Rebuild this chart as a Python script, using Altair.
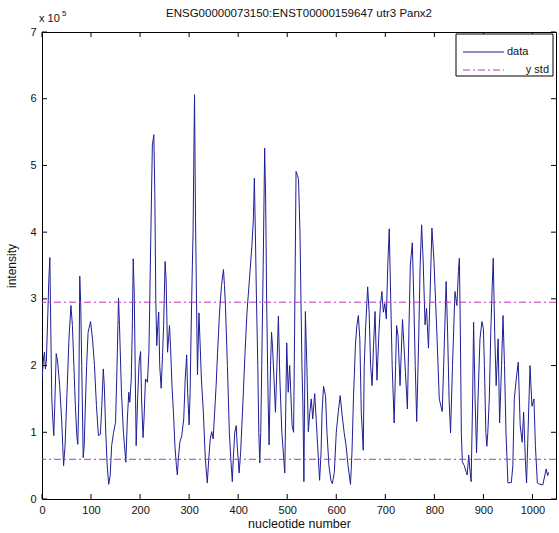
import altair as alt
import pandas as pd

TITLE = "ENSG00000073150:ENST00000159647 utr3 Panx2"
X_TITLE = "nucleotide number"
Y_TITLE = "intensity"

nucleotide = [
    0, 3, 5, 7, 9, 12, 14, 16, 18, 20, 22, 24, 26, 29, 32, 36, 40, 44, 47, 51,
    55, 59, 62, 65, 68, 71, 73, 75, 77, 79, 81, 84, 86, 88, 91, 94, 99, 103, 107, 111,
    115, 119, 122, 125, 127, 130, 133, 136, 139, 142, 146, 150, 153, 156, 158, 162, 166, 171, 174, 177,
    179, 182, 184, 186, 188, 190, 192, 195, 198, 201, 203, 206, 208, 211, 215, 218, 220, 222, 225, 228,
    230, 232, 234, 236, 238, 240, 243, 246, 248, 251, 253, 256, 258, 260, 262, 265, 268, 271, 274, 276,
    278, 281, 285, 289, 292, 295, 297, 300, 302, 304, 306, 308, 310, 311, 313, 315, 317, 320, 322, 325,
    329, 333, 337, 340, 343, 346, 349, 352, 355, 358, 362, 366, 370, 372, 374, 378, 382, 385, 388, 390,
    393, 396, 398, 402, 405, 410, 414, 418, 423, 428, 431, 433, 435, 437, 440, 442, 444, 446, 448, 451,
    454, 456, 458, 461, 463, 466, 468, 470, 473, 476, 479, 482, 485, 489, 495, 499, 502, 505, 510, 513,
    515, 518, 521, 523, 526, 528, 530, 532, 534, 537, 540, 543, 546, 549, 552, 556, 559, 562, 566, 569,
    571, 574, 578, 581, 585, 589, 592, 596, 600, 604, 608, 612, 616, 620, 624, 629, 632, 635, 639, 642,
    645, 648, 651, 655, 657, 660, 664, 667, 670, 673, 676, 679, 683, 687, 690, 693, 696, 699, 702, 705,
    708, 711, 714, 718, 721, 723, 726, 730, 735, 738, 741, 745, 748, 751, 755, 758, 761, 764, 768, 771,
    774, 777, 781, 784, 788, 791, 795, 799, 805, 810, 816, 819, 824, 827, 830, 833, 837, 842, 846, 849,
    851, 853, 855, 857, 861, 865, 867, 870, 873, 875, 878, 880, 883, 886, 889, 893, 897, 900, 902, 905,
    907, 909, 912, 915, 918, 920, 923, 926, 930, 933, 937, 940, 943, 946, 950, 957, 960, 963, 967, 971,
    975, 979, 982, 986, 988, 991, 995, 999, 1003, 1006, 1010, 1015, 1021, 1028, 1031, 1033,
]

# intensity in units of 1e5
intensity_e5 = [
    1.79, 2.1, 2.2, 1.95, 2.1, 2.8, 3.3, 3.62, 2.5, 1.5, 1.2, 0.95, 1.4, 2.18, 2.05, 1.7, 1.2, 0.5, 0.8, 1.6,
    2.4, 2.9, 2.6, 2.0, 1.4, 0.95, 0.82, 1.5, 3.34, 2.9, 2.0, 0.62, 0.8, 1.3, 2.0, 2.5, 2.66, 2.4, 2.0, 1.4,
    0.95, 0.97, 1.4, 1.95, 1.7, 1.0, 0.5, 0.22, 0.35, 0.8, 1.0, 1.15, 2.0, 3.01, 2.6, 1.6, 1.0, 0.55, 1.2, 1.6,
    1.45, 1.8, 2.5, 3.6, 3.1, 2.0, 0.8, 1.5, 2.05, 2.21, 1.5, 0.92, 1.2, 1.8, 1.75, 2.2, 3.1, 4.0, 5.3, 5.46,
    4.6, 3.0, 2.3, 2.6, 2.8, 2.0, 1.66, 2.2, 2.6, 3.56, 3.3, 2.2, 2.4, 2.6, 2.3, 1.7, 1.3, 0.8, 0.5, 0.36,
    0.6, 0.85, 0.95, 1.2, 1.8, 2.16, 1.6, 1.11, 1.6, 2.5, 3.3, 4.0, 5.4, 6.06, 4.2, 3.0, 1.86, 2.79, 2.4, 1.8,
    1.3, 0.6, 0.24, 0.6, 0.9, 1.01, 0.9, 1.3, 1.7, 2.2, 2.8, 3.2, 3.44, 3.2, 2.9, 2.0, 1.0, 0.6, 0.26, 0.6,
    1.0, 1.1, 0.8, 0.39, 0.7, 1.5, 2.2, 2.8, 3.3, 3.8, 4.2, 4.81, 4.0, 3.1, 2.0, 1.0, 0.54, 1.0, 2.0, 3.5,
    5.26, 4.5, 3.0, 1.5, 0.81, 2.0, 2.5, 2.29, 1.8, 1.3, 2.0, 2.74, 1.8, 1.0, 0.39, 2.34, 1.6, 2.0, 1.1, 1.0,
    2.5, 4.91, 4.85, 4.79, 4.0, 3.0, 2.0, 1.4, 0.26, 2.81, 2.0, 1.01, 1.3, 1.5, 1.2, 1.58, 1.2, 0.8, 0.28, 0.7,
    1.3, 1.69, 1.55, 1.0, 0.5, 0.28, 0.23, 0.4, 1.0, 1.3, 1.55, 1.25, 1.0, 0.8, 0.5, 0.22, 0.7, 1.5, 2.3, 2.6,
    2.75, 2.4, 1.3, 0.73, 2.0, 2.6, 3.18, 2.8, 2.0, 1.7, 2.3, 2.81, 1.78, 2.5, 2.9, 3.11, 2.8, 2.93, 2.7, 3.5,
    4.05, 3.0, 2.0, 1.14, 2.0, 2.6, 2.44, 1.7, 2.69, 2.3, 1.9, 1.35, 2.5, 3.5, 3.84, 3.0, 2.0, 1.16, 2.4, 3.5,
    4.11, 3.6, 2.61, 2.86, 2.26, 3.0, 4.06, 3.6, 2.5, 1.5, 1.31, 2.0, 3.26, 2.5, 1.5, 0.99, 2.0, 3.11, 2.9, 3.41,
    3.61, 2.5, 1.0, 0.56, 0.5, 0.4, 0.36, 0.66, 0.4, 0.26, 1.5, 2.65, 1.5, 0.69, 1.5, 2.4, 2.66, 2.55, 2.0, 1.0,
    0.79, 1.0, 1.5, 2.5, 3.2, 3.61, 2.5, 1.7, 2.4, 1.14, 2.0, 2.75, 2.0, 1.0, 0.24, 0.25, 0.5, 1.5, 1.8, 2.05,
    1.1, 0.85, 1.3, 0.5, 0.24, 1.0, 2.0, 1.39, 1.5, 0.8, 0.24, 0.22, 0.21, 0.45, 0.35, 0.4,
]

std_levels_e5 = [0.595, 2.95]
x_ticks = [0, 100, 200, 300, 400, 500, 600, 700, 800, 900, 1000]
y_ticks = [0, 1, 2, 3, 4, 5, 6, 7]
legend_labels = ["data", "y std"]

W, H = 514, 467
X_MAX = 1048
FONT = "Liberation Sans"
BLUE = "#1e1e96"
MAGENTA = "#c030c0"
DASHDOT = [7, 3, 2, 3]
TXT = "#111111"

xs = alt.Scale(domain=[0, X_MAX], nice=False, zero=False)
ys = alt.Scale(domain=[0, 7], nice=False, zero=False)

x_axis = alt.Axis(values=x_ticks, title=X_TITLE, tickSize=0, ticks=False, domain=False, grid=False,
                  labelFlush=False, labelOverlap=False, labelPadding=5, labelFontSize=11,
                  labelFont=FONT, labelColor=TXT, titleFont=FONT, titleFontSize=12.5,
                  titleFontWeight="normal", titleColor=TXT, titlePadding=2, format="d")
y_axis = alt.Axis(values=y_ticks, title=Y_TITLE, tickSize=0, ticks=False, domain=False, grid=False,
                  labelFlush=False, labelOverlap=False, labelPadding=6, labelFontSize=11,
                  labelFont=FONT, labelColor=TXT, titleFont=FONT, titleFontSize=12,
                  titleFontWeight="normal", titleColor=TXT, titlePadding=11, format="d")

df = pd.DataFrame({"x": nucleotide, "y": intensity_e5})

data_line = alt.Chart(df).mark_line(color=BLUE, strokeWidth=1, clip=True).encode(
    x=alt.X("x:Q", scale=xs, axis=x_axis),
    y=alt.Y("y:Q", scale=ys, axis=y_axis),
)

std_rules = alt.Chart(pd.DataFrame({"y": std_levels_e5})).mark_rule(
    color=MAGENTA, strokeWidth=1, strokeDash=DASHDOT
).encode(y=alt.Y("y:Q", scale=ys, axis=y_axis))

xt = pd.DataFrame({"x": x_ticks})
yt = pd.DataFrame({"y": y_ticks})
tick_bottom = alt.Chart(xt).mark_rule(color="black", strokeWidth=1).encode(
    x=alt.X("x:Q", scale=xs, axis=x_axis), y=alt.value(H), y2=alt.value(H - 5))
tick_top = alt.Chart(xt).mark_rule(color="black", strokeWidth=1).encode(
    x=alt.X("x:Q", scale=xs, axis=x_axis), y=alt.value(0), y2=alt.value(5))
tick_left = alt.Chart(yt).mark_rule(color="black", strokeWidth=1).encode(
    y=alt.Y("y:Q", scale=ys, axis=y_axis), x=alt.value(0), x2=alt.value(5))
tick_right = alt.Chart(yt).mark_rule(color="black", strokeWidth=1).encode(
    y=alt.Y("y:Q", scale=ys, axis=y_axis), x=alt.value(W), x2=alt.value(W - 5))

# chart title and exponent label as text marks
title_mark = alt.Chart(pd.DataFrame({"s": [TITLE]})).mark_text(
    font=FONT, fontSize=11.5, color=TXT, align="center", baseline="alphabetic"
).encode(text="s:N", x=alt.value(W / 2), y=alt.value(-15))
exp_base = alt.Chart(pd.DataFrame({"s": ["x 10"]})).mark_text(
    font=FONT, fontSize=11, color=TXT, align="left", baseline="alphabetic"
).encode(text="s:N", x=alt.value(-3), y=alt.value(-10))
exp_pow = alt.Chart(pd.DataFrame({"s": ["5"]})).mark_text(
    font=FONT, fontSize=8, color=TXT, align="left", baseline="alphabetic"
).encode(text="s:N", x=alt.value(20), y=alt.value(-16))

# legend box
LX0, LX1, LY0, LY1 = 414, 511, 2, 44
leg_box = alt.Chart(pd.DataFrame({"k": [0]})).mark_rect(
    fill="white", stroke="black", strokeWidth=1
).encode(x=alt.value(LX0), x2=alt.value(LX1), y=alt.value(LY0), y2=alt.value(LY1))
leg_line1 = alt.Chart(pd.DataFrame({"k": [0]})).mark_rule(color=BLUE, strokeWidth=1).encode(
    x=alt.value(421), x2=alt.value(462), y=alt.value(20))
leg_line2 = alt.Chart(pd.DataFrame({"k": [0]})).mark_rule(
    color=MAGENTA, strokeWidth=1, strokeDash=DASHDOT).encode(
    x=alt.value(421), x2=alt.value(462), y=alt.value(38))
leg_txt1 = alt.Chart(pd.DataFrame({"s": [legend_labels[0]]})).mark_text(
    font=FONT, fontSize=11, color=TXT, align="left", baseline="middle"
).encode(text="s:N", x=alt.value(465), y=alt.value(20))
leg_txt2 = alt.Chart(pd.DataFrame({"s": [legend_labels[1]]})).mark_text(
    font=FONT, fontSize=11, color=TXT, align="right", baseline="middle"
).encode(text="s:N", x=alt.value(507), y=alt.value(38))

chart = alt.layer(
    data_line, std_rules, tick_bottom, tick_top, tick_left, tick_right,
    title_mark, exp_base, exp_pow, leg_box, leg_line1, leg_line2, leg_txt1, leg_txt2,
).properties(
    width=W, height=H,
    autosize=alt.AutoSizeParams(type="none"),
    padding={"left": 42, "top": 32, "right": 3, "bottom": 34},
    background="white",
).configure_view(stroke="black", strokeWidth=1)

chart.save("out.html", embed_options={"renderer": "svg", "actions": False})
